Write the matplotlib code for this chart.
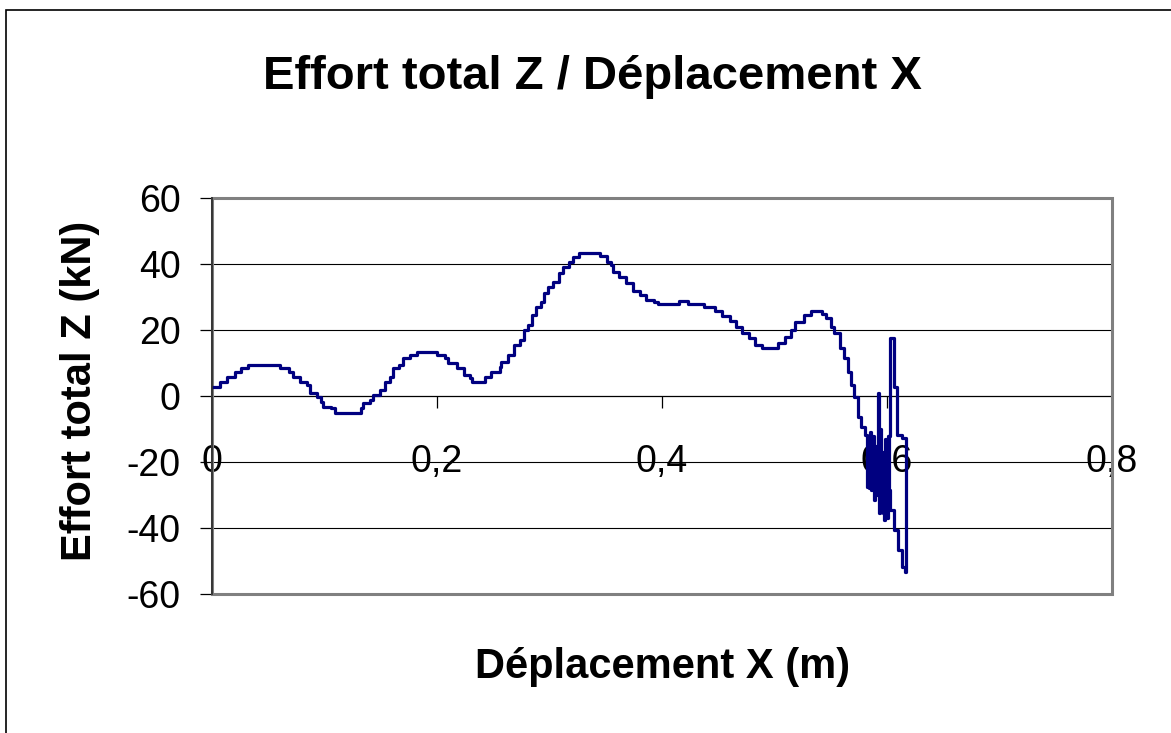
import numpy as np
import matplotlib
matplotlib.use("Agg")
import matplotlib.pyplot as plt
from matplotlib.patches import Rectangle

# deplacement X (m) / effort total Z (kN)
depl_x = [
    0.001, 0.007, 0.013, 0.020, 0.026, 0.032, 0.054, 0.060, 0.068, 0.072,
    0.078, 0.084, 0.087, 0.093, 0.097, 0.099, 0.106, 0.109, 0.127, 0.132,
    0.134, 0.140, 0.143, 0.149, 0.154, 0.158, 0.161, 0.166, 0.170, 0.176,
    0.182, 0.195, 0.200, 0.207, 0.210, 0.218, 0.224, 0.229, 0.231, 0.238,
    0.243, 0.248, 0.256, 0.257, 0.263, 0.268, 0.274, 0.277, 0.281, 0.284,
    0.288, 0.292, 0.295, 0.299, 0.303, 0.308, 0.312, 0.317, 0.321, 0.326,
    0.340, 0.345, 0.351, 0.355, 0.356, 0.362, 0.368, 0.374, 0.380, 0.386,
    0.393, 0.396, 0.413, 0.415, 0.422, 0.423, 0.435, 0.437, 0.444, 0.447,
    0.453, 0.460, 0.466, 0.471, 0.477, 0.483, 0.489, 0.499, 0.503, 0.509,
    0.515, 0.518, 0.526, 0.532, 0.536, 0.542, 0.546, 0.550, 0.553, 0.558,
    0.562, 0.565, 0.568, 0.571, 0.574, 0.577, 0.580,
    # zone perturbee
    0.582, 0.582, 0.583, 0.584, 0.585, 0.586, 0.587, 0.588, 0.589, 0.589,
    0.590, 0.591, 0.592, 0.592, 0.593, 0.594, 0.595, 0.596, 0.597, 0.598,
    0.599, 0.600, 0.601, 0.603, 0.603, 0.606, 0.606, 0.609, 0.609, 0.613,
    0.616, 0.617, 0.616, 0.613, 0.610, 0.606, 0.603, 0.602,
]
effort_z = [
    2.8, 4.3, 5.8, 7.4, 8.4, 9.4, 9.4, 8.4, 7.4, 5.8,
    4.3, 3.3, 0.8, -0.2, -1.7, -3.2, -3.5, -5.3, -5.3, -3.7,
    -2.2, -1.2, 0.3, 1.8, 4.3, 5.8, 8.4, 9.4, 11.4, 12.4,
    13.4, 13.4, 12.4, 11.4, 9.9, 8.4, 6.4, 5.4, 4.3, 4.3,
    5.8, 7.4, 8.9, 10.4, 12.4, 15.5, 17.0, 20.0, 21.5, 24.5,
    27.0, 28.5, 31.1, 33.1, 34.6, 37.2, 39.2, 40.7, 42.2, 43.4,
    43.4, 42.4, 40.7, 39.7, 37.7, 36.2, 34.1, 31.8, 30.6, 29.1,
    28.6, 27.9, 27.9, 28.9, 28.9, 27.9, 27.9, 26.9, 26.9, 25.9,
    24.2, 22.8, 21.0, 19.2, 17.5, 15.5, 14.4, 14.4, 16.0, 18.0,
    20.0, 22.5, 24.5, 25.9, 25.9, 24.8, 23.5, 21.0, 19.0, 14.4,
    11.4, 7.4, 3.3, -0.2, -6.3, -9.3, -11.8,
    -12.8, -27.5, -12.0, -28.0, -11.0, -28.5, -12.0, -31.5, -31.5, -15.0,
    -30.0, -20.0, -7.3, 0.8, -35.5, -10.0, -17.0, -35.5, -37.6, -13.0,
    -20.0, -37.0, -12.0, -6.0, 17.5, 17.5, 2.8, 2.8, -11.8, -12.8,
    -12.8, -53.2, -51.7, -46.7, -40.6, -34.5, -28.5, -12.0,
]

x_ticks = [0, 0.2, 0.4, 0.6, 0.8]
x_tick_labels = ["0", "0,2", "0,4", "0,6", "0,8"]
y_ticks = [-60, -40, -20, 0, 20, 40, 60]
y_tick_labels = ["-60", "-40", "-20", "0", "20", "40", "60"]

plt.rcParams["font.family"] = ["Liberation Sans", "DejaVu Sans"]

W, H = 1171, 733
fig = plt.figure(figsize=(W / 100, H / 100), dpi=100)
ax = fig.add_axes([212 / W, 1 - 594 / H, 900 / W, 396 / H])

# cadre exterieur du graphique
fig.patches.append(Rectangle((6 / W, -0.1), 1.2, 1.1 - 10 / H,
                             transform=fig.transFigure, fill=False,
                             edgecolor="black", linewidth=1.2))

ax.plot(depl_x, effort_z, color="#000080", linewidth=2.3,
        drawstyle="steps-post", zorder=4)

ax.set_xlim(0, 0.8)
ax.set_ylim(-60, 60)

for yv in y_ticks:
    if yv not in (-60, 60, 0):
        ax.axhline(yv, color="black", linewidth=0.8, zorder=1)

# bordure grise de la zone de traçage
ax.add_patch(Rectangle((0, 0), 1, 1, transform=ax.transAxes, fill=False,
                       edgecolor="#808080", linewidth=2.2, clip_on=False,
                       zorder=3))

for s in ["top", "right"]:
    ax.spines[s].set_visible(False)
ax.spines["left"].set_color("#303030")
ax.spines["left"].set_linewidth(1.3)
ax.spines["left"].set_zorder(5)
ax.spines["bottom"].set_position(("data", 0))
ax.spines["bottom"].set_color("black")
ax.spines["bottom"].set_linewidth(0.9)

ax.set_xticks(x_ticks)
ax.set_xticklabels(x_tick_labels)
ax.set_yticks(y_ticks)
ax.set_yticklabels(y_tick_labels)
ax.tick_params(axis="x", direction="out", length=8.5, width=0.9,
               labelsize=27, pad=26)
ax.tick_params(axis="y", direction="out", length=8.5, width=0.9,
               labelsize=27, pad=14)

fig.text(592 / W, 1 - 89 / H, "Effort total Z / Déplacement X",
         ha="center", va="baseline", fontsize=34, fontweight="bold")
fig.text(663 / W, 1 - 678 / H, "Déplacement X (m)",
         ha="center", va="baseline", fontsize=30, fontweight="bold")
fig.text(80 / W, 1 - 391 / H, "Effort total Z (kN)",
         ha="center", va="center", rotation=90, fontsize=30,
         fontweight="bold")

fig.savefig("out.png", dpi=100)
